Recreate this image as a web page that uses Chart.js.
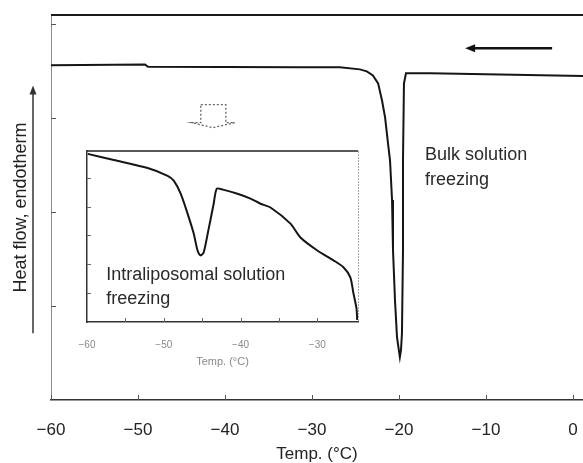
<!DOCTYPE html>
<html lang="en">
<head>
<meta charset="UTF-8">
<title>DSC freezing thermogram</title>
<script src="https://cdn.jsdelivr.net/npm/chart.js"></script>
<style>
  body { margin: 0; background: #fff; }
  #wrap { position: relative; width: 583px; height: 463px; }
  #mainChart { position: absolute; left: 0; top: 0; }
  #insetChart { position: absolute; left: 60px; top: 140px; }
</style>
</head>
<body>
<div id="wrap">
  <canvas id="mainChart" width="583" height="463"></canvas>
  <canvas id="insetChart" width="310" height="232"></canvas>
</div>
<script>
// main thermogram (cooling scan), temperature in °C, heat flow in arbitrary units
const mainTemp = [-60, -49.2, -48.85, -31.4, -26.8, -24.5, -23.7, -23.0, -22.4, -21.95, -21.6, -21.26, -21.03,
                  -20.8, -20.69, -20.46, -20.23, -19.9, -19.77, -19.66, -19.54, -19.54, -19.43, -19.2, -16.4, 1.15];
const mainHeat = [3.564, 3.574, 3.548, 3.543, 3.543, 3.521, 3.50, 3.457, 3.372, 3.19, 3.01, 2.73, 2.55,
                  2.13, 1.60, 1.06, 0.67, 0.457, 0.53, 0.71, 1.60, 2.55, 3.37, 3.48, 3.48, 3.45];
const mainXTicks = [-60, -50, -40, -30, -20, -10, 0];
const mainXLabels = ['\u221260', '\u221250', '\u221240', '\u221230', '\u221220', '\u221210', '0'];
const mainYTicks = [1, 2, 3, 4];

// inset: zoom on the intraliposomal freezing region
const insetTemp = [-59.9, -56.5, -52.1, -49.5, -48.7, -47.8, -46.9, -46.1, -45.6, -45.2, -44.8, -44.2, -43.5, -43.1,
                   -42.3, -40.4, -38.7, -37.4, -36.1, -33.5, -32.2, -30.0, -27.9, -26.6, -25.7, -25.3, -24.9, -24.8];
const insetHeat = [5.83, 5.62, 5.34, 5.07, 4.90, 4.45, 3.76, 3.07, 2.48, 2.31, 2.41, 3.17, 4.10, 4.62,
                   4.59, 4.45, 4.28, 4.10, 3.97, 3.41, 2.93, 2.48, 2.14, 1.90, 1.55, 1.00, 0.48, 0.07];
const insetXTicks = [-60, -50, -40, -30];
const insetXLabels = ['\u221260', '\u221250', '\u221240', '\u221230'];
const insetXMarks = [-55, -50, -45, -40, -35, -30];
const insetYTicks = [1, 2, 3, 4, 5];

const FONT = "'Liberation Sans', Arial, sans-serif";

function seg(ctx, x1, y1, x2, y2) {
    ctx.beginPath(); ctx.moveTo(x1, y1); ctx.lineTo(x2, y2); ctx.stroke();
}

const mainDecor = {
    id: 'mainDecor',
    afterDraw(chart) {
        const { ctx, chartArea: a, scales: { x, y } } = chart;
        ctx.save();
        // top frame
        ctx.strokeStyle = '#1a1a1a'; ctx.lineWidth = 2;
        seg(ctx, a.left, a.top, a.right, a.top);
        // ticks pointing inwards
        ctx.strokeStyle = '#555'; ctx.lineWidth = 1;
        mainXTicks.forEach(v => { const px = Math.round(x.getPixelForValue(v)) + 0.5; seg(ctx, px, a.bottom, px, a.bottom - 5); });
        mainYTicks.forEach(v => { const py = Math.round(y.getPixelForValue(v)) + 0.5; seg(ctx, a.left, py, a.left + 5, py); });

        // arrow beside the y title
        const ax = y.left + 33;
        const ayTop = y.getPixelForValue(3.35), ayBot = y.getPixelForValue(0.71);
        ctx.strokeStyle = '#333'; ctx.fillStyle = '#333'; ctx.lineWidth = 1.5;
        seg(ctx, ax, ayBot, ax, ayTop + 6);
        ctx.beginPath(); ctx.moveTo(ax, ayTop); ctx.lineTo(ax - 3.5, ayTop + 9); ctx.lineTo(ax + 3.5, ayTop + 9); ctx.closePath(); ctx.fill();

        // cooling direction arrow
        const cy = y.getPixelForValue(3.745);
        const cx1 = x.getPixelForValue(-2.4), cx2 = x.getPixelForValue(-12.4);
        ctx.strokeStyle = '#111'; ctx.fillStyle = '#111'; ctx.lineWidth = 2.5;
        seg(ctx, cx1, cy, cx2 + 6, cy);
        ctx.beginPath(); ctx.moveTo(cx2, cy); ctx.lineTo(cx2 + 10, cy - 4); ctx.lineTo(cx2 + 10, cy + 4); ctx.closePath(); ctx.fill();

        // hollow dotted arrow pointing to the inset
        const tx = x.getPixelForValue(-41.4), ty = y.getPixelForValue(2.90);
        const shape = [[-12, -23], [13, -23], [13, -5], [22, -5], [0, 0], [-21, -5], [-12, -5]];
        ctx.strokeStyle = '#666'; ctx.lineWidth = 1.3; ctx.setLineDash([2, 2]);
        ctx.beginPath();
        shape.forEach((p, i) => i ? ctx.lineTo(tx + p[0], ty + p[1]) : ctx.moveTo(tx + p[0], ty + p[1]));
        ctx.closePath(); ctx.stroke();
        ctx.setLineDash([]);

        // annotation
        ctx.fillStyle = '#2a2a2a'; ctx.font = '18px ' + FONT; ctx.textBaseline = 'middle'; ctx.textAlign = 'left';
        ctx.fillText('Bulk solution', x.getPixelForValue(-17.0), y.getPixelForValue(2.61));
        ctx.fillText('freezing', x.getPixelForValue(-17.0), y.getPixelForValue(2.34));
        ctx.restore();
    }
};

const insetDecor = {
    id: 'insetDecor',
    afterDraw(chart) {
        const { ctx, chartArea: a, scales: { x, y } } = chart;
        ctx.save();
        ctx.strokeStyle = '#222'; ctx.lineWidth = 1.5;
        seg(ctx, a.left, a.top, a.right, a.top);
        ctx.strokeStyle = '#aaa'; ctx.lineWidth = 1; ctx.setLineDash([2, 1]);
        seg(ctx, a.right + 0.5, a.top, a.right + 0.5, a.bottom);
        ctx.setLineDash([]);
        ctx.strokeStyle = '#666';
        insetXMarks.forEach(v => { const px = Math.round(x.getPixelForValue(v)) + 0.5; seg(ctx, px, a.bottom, px, a.bottom - 4); });
        insetYTicks.forEach(v => { const py = Math.round(y.getPixelForValue(v)) + 0.5; seg(ctx, a.left, py, a.left + 4, py); });

        ctx.fillStyle = '#2a2a2a'; ctx.font = '18px ' + FONT; ctx.textBaseline = 'middle'; ctx.textAlign = 'left';
        ctx.fillText('Intraliposomal solution', x.getPixelForValue(-57.5), y.getPixelForValue(1.62));
        ctx.fillText('freezing', x.getPixelForValue(-57.5), y.getPixelForValue(0.79));
        ctx.restore();
    }
};

const mainChart = new Chart(document.getElementById('mainChart'), {
    type: 'scatter',
    data: {
        datasets: [{
            data: mainTemp.map((t, i) => ({ x: t, y: mainHeat[i] })),
            showLine: true,
            borderColor: '#151515',
            borderWidth: 2,
            pointRadius: 0,
            tension: 0
        }]
    },
    options: {
        responsive: false,
        animation: false,
        layout: { padding: { top: 15, right: 0, bottom: 0, left: 0 } },
        plugins: { legend: { display: false }, tooltip: { enabled: false } },
        scales: {
            x: {
                type: 'linear', min: -60, max: 1.15,
                afterBuildTicks: s => { s.ticks = mainXTicks.map(v => ({ value: v })); },
                afterFit: s => { s.height = 63; s.paddingLeft = 0; s.paddingRight = 0; },
                grid: { display: false, drawTicks: false },
                border: { display: true, color: '#333', width: 1.5 },
                ticks: {
                    padding: 20, color: '#222', font: { size: 17, family: FONT },
                    callback: v => mainXLabels[mainXTicks.indexOf(v)]
                },
                title: {
                    display: true, text: 'Temp. (\u00B0C)', color: '#222',
                    font: { size: 17, family: FONT, lineHeight: 1 }, padding: { top: 0, bottom: 0 }
                }
            },
            y: {
                type: 'linear', min: 0, max: 4.1,
                afterBuildTicks: s => { s.ticks = mainYTicks.map(v => ({ value: v })); },
                afterFit: s => { s.width = 51; s.paddingTop = 0; s.paddingBottom = 0; },
                grid: { display: false, drawTicks: false },
                border: { display: true, color: '#8a8a8a', width: 1 },
                ticks: { display: false },
                title: {
                    display: true, text: 'Heat flow, endotherm', color: '#222',
                    font: { size: 18, family: FONT }, padding: { top: 10, bottom: 0 }
                }
            }
        }
    },
    plugins: [mainDecor]
});

const insetChart = new Chart(document.getElementById('insetChart'), {
    type: 'scatter',
    data: {
        datasets: [{
            data: insetTemp.map((t, i) => ({ x: t, y: insetHeat[i] })),
            showLine: true,
            borderColor: '#151515',
            borderWidth: 2,
            pointRadius: 0,
            tension: 0.25
        }]
    },
    options: {
        responsive: false,
        animation: false,
        layout: { padding: { top: 11, right: 12, bottom: 0, left: 0 } },
        plugins: { legend: { display: false }, tooltip: { enabled: false } },
        scales: {
            x: {
                type: 'linear', min: -60, max: -24.7,
                afterBuildTicks: s => { s.ticks = insetXTicks.map(v => ({ value: v })); },
                afterFit: s => { s.height = 50; s.paddingLeft = 0; s.paddingRight = 0; },
                grid: { display: false, drawTicks: false },
                border: { display: true, color: '#333', width: 1.5 },
                ticks: {
                    padding: 17, color: '#8a8a8a', font: { size: 10, family: FONT },
                    callback: v => insetXLabels[insetXTicks.indexOf(v)]
                },
                title: {
                    display: true, text: 'Temp. (\u00B0C)', color: '#888',
                    font: { size: 11, family: FONT, lineHeight: 1 }, padding: { top: 0, bottom: 5 }
                }
            },
            y: {
                type: 'linear', min: 0, max: 5.93,
                afterBuildTicks: s => { s.ticks = insetYTicks.map(v => ({ value: v })); },
                afterFit: s => { s.width = 27; },
                grid: { display: false, drawTicks: false },
                border: { display: true, color: '#333', width: 1.5 },
                ticks: { display: false }
            }
        }
    },
    plugins: [insetDecor]
});
</script>
</body>
</html>
